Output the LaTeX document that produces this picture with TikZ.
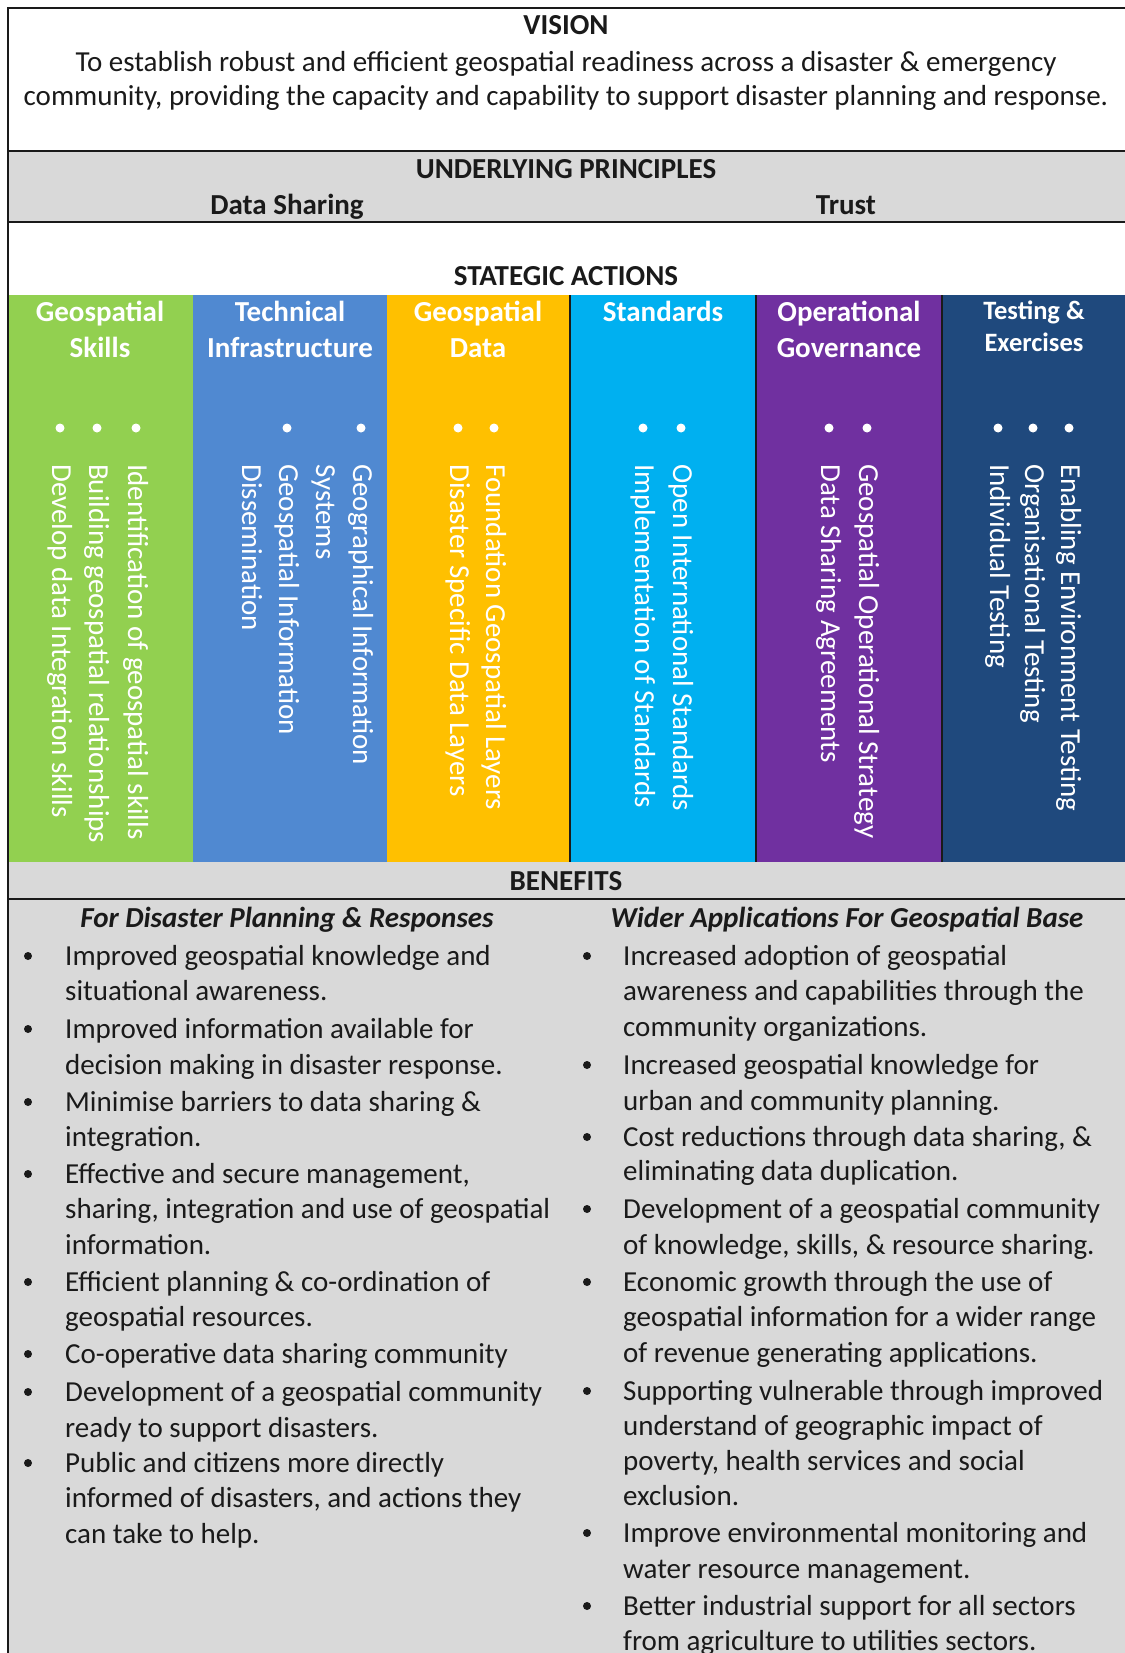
\documentclass[tikz,border=0pt]{standalone}
\usepackage{fontspec}
\setmainfont{Carlito}
\definecolor{cgreen}{HTML}{92D050}
\definecolor{cblue}{HTML}{5089D1}
\definecolor{corange}{HTML}{FFC000}
\definecolor{ccyan}{HTML}{00B0F0}
\definecolor{cpurple}{HTML}{7030A0}
\definecolor{cnavy}{HTML}{1F497D}
\definecolor{cgray}{HTML}{D9D9D9}
\definecolor{ink}{HTML}{1A1A1A}
\begin{document}
\begin{tikzpicture}[x=1pt,y=-1pt,
  gtxt/.style={inner sep=0pt, text=ink, font=\fontsize{29}{35}\selectfont},
  hdtxt/.style={inner sep=0pt, text=ink, anchor=base, font=\fontsize{29}{35}\selectfont\bfseries},
  chtxt/.style={inner sep=0pt, text=white, anchor=base, font=\fontsize{29}{35}\selectfont\bfseries},
  tetxt/.style={inner sep=0pt, text=white, anchor=base, font=\fontsize{26.5}{32}\selectfont\bfseries},
  rottxt/.style={inner sep=0pt, text=white, rotate=-90, anchor=base west, font=\fontsize{29}{35}\selectfont},
  bentxt/.style={inner sep=0pt, text=ink, anchor=base west, font=\fontsize{29}{35}\selectfont},
  bhtxt/.style={inner sep=0pt, text=ink, anchor=base, font=\fontsize{29}{35}\selectfont\bfseries\itshape},
  wbul/.style={circle, fill=white, inner sep=0pt, minimum size=9pt},
  kbul/.style={circle, fill=ink, inner sep=0pt, minimum size=8pt},
  ruleline/.style={line width=1.6pt, draw=ink},
  sepline/.style={line width=1.2pt, draw=ink}]
\useasboundingbox (0,0) rectangle (1124,1653);
% backgrounds
\fill[white] (8,8) rectangle (1130,295);
\fill[cgray] (8,151) rectangle (1130,222);
\fill[cgreen] (8,295) rectangle (193,862);
\fill[cblue] (193,295) rectangle (387,862);
\fill[corange] (387,295) rectangle (570,862);
\fill[ccyan] (570,295) rectangle (756,862);
\fill[cpurple] (756,295) rectangle (942,862);
\fill[cnavy] (942,295) rectangle (1130,862);
\fill[cgray] (8,862) rectangle (1130,1660);
% lines
\coordinate (fbl) at (8,1660);
\coordinate (ftl) at (8,8);
\coordinate (ftr) at (1130,8);
\draw[ruleline] (fbl) -- (ftl) -- (ftr);
\coordinate (v1l) at (8,151); \coordinate (v1r) at (1130,151);
\coordinate (u1l) at (8,222); \coordinate (u1r) at (1130,222);
\coordinate (b1l) at (8,899); \coordinate (b1r) at (1130,899);
\draw[ruleline] (v1l) -- (v1r);
\draw[ruleline] (u1l) -- (u1r);
\draw[ruleline] (b1l) -- (b1r);
\coordinate (s1t) at (570,295); \coordinate (s1b) at (570,862);
\coordinate (s2t) at (756,295); \coordinate (s2b) at (756,862);
\coordinate (s3t) at (942,295); \coordinate (s3b) at (942,862);
\draw[sepline] (s1t) -- (s1b);
\draw[sepline] (s2t) -- (s2b);
\draw[sepline] (s3t) -- (s3b);
% vision
\node[hdtxt] (vision) at (566,35) {VISION};
\node[gtxt, anchor=base] (vl1) at (566,72) {To establish robust and efficient geospatial readiness across a disaster \& emergency};
\node[gtxt, anchor=base] (vl2) at (566,106) {community, providing the capacity and capability to support disaster planning and response.};
% principles
\node[hdtxt] (up) at (566,179) {UNDERLYING PRINCIPLES};
\node[hdtxt] (ds) at (287,215) {Data Sharing};
\node[hdtxt] (tr) at (846,215) {Trust};
\node[hdtxt] (sa) at (566,285) {STATEGIC ACTIONS};
% column headers
\node[chtxt] (h1a) at (100,321) {Geospatial};
\node[chtxt] (h1b) at (100,357) {Skills};
\node[chtxt] (h2a) at (290,321) {Technical};
\node[chtxt] (h2b) at (290,357) {Infrastructure};
\node[chtxt] (h3a) at (478,321) {Geospatial};
\node[chtxt] (h3b) at (478,357) {Data};
\node[chtxt] (h4a) at (663,321) {Standards};
\node[chtxt] (h5a) at (849,321) {Operational};
\node[chtxt] (h5b) at (849,357) {Governance};
\node[tetxt] (h6a) at (1034,319) {Testing \&};
\node[tetxt] (h6b) at (1034,351) {Exercises};
% bullets in columns
\foreach \x [count=\i] in {60,97,136,287,361,458,494,643,681,829,867,998,1033,1069}
  \node[wbul] (wb\i) at (\x,428) {};
% rotated items
\node[rottxt] (r1) at (128,464) {Identification of geospatial skills};
\node[rottxt] (r2) at (89,464) {Building geospatial relationships};
\node[rottxt] (r3) at (52,464) {Develop data Integration skills};
\node[rottxt] (r4) at (353,464) {Geographical Information};
\node[rottxt] (r5) at (316,464) {Systems};
\node[rottxt] (r6) at (279,464) {Geospatial Information};
\node[rottxt] (r7) at (242,464) {Dissemination};
\node[rottxt] (r8) at (486,464) {Foundation Geospatial Layers};
\node[rottxt] (r9) at (450,464) {Disaster Specific Data Layers};
\node[rottxt] (r10) at (673,464) {Open International Standards};
\node[rottxt] (r11) at (635,464) {Implementation of Standards};
\node[rottxt] (r12) at (859,464) {Geospatial Operational Strategy};
\node[rottxt] (r13) at (821,464) {Data Sharing Agreements};
\node[rottxt] (r14) at (1061,464) {Enabling Environment Testing};
\node[rottxt] (r15) at (1025,464) {Organisational Testing};
\node[rottxt] (r16) at (990,464) {Individual Testing};
% benefits
\node[hdtxt] (ben) at (566,890) {BENEFITS};
\node[bhtxt] (bh1) at (287,927) {For Disaster Planning \& Responses};
\node[bhtxt] (bh2) at (847,927) {Wider Applications For Geospatial Base};
\foreach \y/\t [count=\i] in {
  965/{Improved geospatial knowledge and},
  1000/{situational awareness.},
  1038/{Improved information available for},
  1074/{decision making in disaster response.},
  1111/{Minimise barriers to data sharing \&},
  1146/{integration.},
  1183/{Effective and secure management,},
  1218/{sharing, integration and use of geospatial},
  1254/{information.},
  1291/{Efficient planning \& co-ordination of},
  1326/{geospatial resources.},
  1363/{Co-operative data sharing community},
  1401/{Development of a geospatial community},
  1437/{ready to support disasters.},
  1472/{Public and citizens more directly},
  1507/{informed of disasters, and actions they},
  1543/{can take to help.}}
  \node[bentxt] (bl\i) at (65,\y) {\t};
\foreach \y [count=\i] in {956,1029,1102,1174,1282,1354,1392,1463}
  \node[kbul] (kl\i) at (28,\y) {};
\foreach \y/\t [count=\i] in {
  965/{Increased adoption of geospatial},
  1000/{awareness and capabilities through the},
  1036/{community organizations.},
  1074/{Increased geospatial knowledge for},
  1110/{urban and community planning.},
  1146/{Cost reductions through data sharing, \&},
  1180/{eliminating data duplication.},
  1218/{Development of a geospatial community},
  1254/{of knowledge, skills, \& resource sharing.},
  1291/{Economic growth through the use of},
  1326/{geospatial information for a wider range},
  1362/{of revenue generating applications.},
  1400/{Supporting vulnerable through improved},
  1435/{understand of geographic impact of},
  1470/{poverty, health services and social},
  1505/{exclusion.},
  1542/{Improve environmental monitoring and},
  1578/{water resource management.},
  1615/{Better industrial support for all sectors},
  1650/{from agriculture to utilities sectors.}}
  \node[bentxt] (br\i) at (623,\y) {\t};
\foreach \y [count=\i] in {956,1065,1137,1209,1282,1391,1533,1606}
  \node[kbul] (kr\i) at (587,\y) {};
\end{tikzpicture}
\end{document}
